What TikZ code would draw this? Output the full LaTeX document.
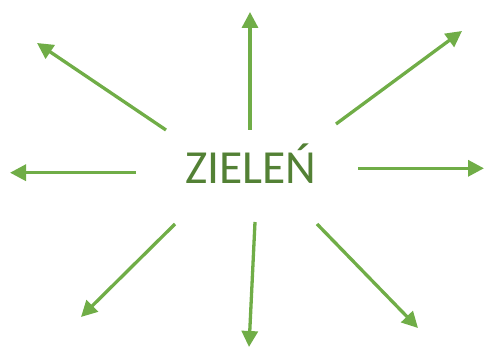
\documentclass[tikz,border=0pt]{standalone}
\usepackage{fontspec}
\setmainfont{Carlito}
\usetikzlibrary{arrows.meta}
\definecolor{arrowgreen}{HTML}{70AD47}
\definecolor{textgreen}{HTML}{538135}
\begin{document}
\begin{tikzpicture}[x=1pt,y=-1pt,
  ray/.style={draw=arrowgreen,line width=3.3pt,-{Triangle[length=16pt,width=16pt]}},
  label/.style={text=textgreen,font=\fontsize{47.5}{50}\selectfont,inner sep=0pt,anchor=base}]
\useasboundingbox (0,0) rectangle (484,347);
\node[label] (center) at (251,183.3) {ZIELEŃ};
\coordinate (s1) at (250,130); \coordinate (e1) at (250,12);
\coordinate (s2) at (166,130); \coordinate (e2) at (37,43);
\coordinate (s3) at (336,124); \coordinate (e3) at (462,31);
\coordinate (s4) at (136,172.7); \coordinate (e4) at (10,172.7);
\coordinate (s5) at (358,168.3); \coordinate (e5) at (484,168.3);
\coordinate (s6) at (175,224); \coordinate (e6) at (81,317);
\coordinate (s7) at (255,222); \coordinate (e7) at (249,347);
\coordinate (s8) at (317,224); \coordinate (e8) at (418,328);
\foreach \i in {1,...,8} \draw[ray] (s\i) -- (e\i);
\end{tikzpicture}
\end{document}
